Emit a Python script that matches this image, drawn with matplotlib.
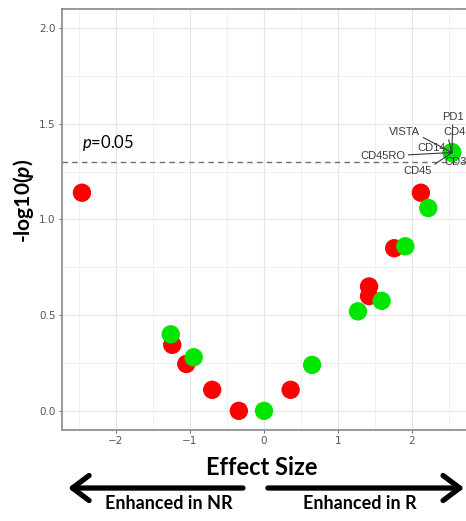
import numpy as np
import matplotlib
matplotlib.use("Agg")
import matplotlib.pyplot as plt
from matplotlib.patches import FancyArrowPatch

plt.rcParams["mathtext.fontset"] = "custom"
plt.rcParams["mathtext.it"] = "Lato:italic"
plt.rcParams["mathtext.bf"] = "Lato:italic:bold"
plt.rcParams["mathtext.rm"] = "Lato"

# ---------------- data ----------------
red_x = [-2.46, -1.24, -1.05, -0.70, -0.34, 0.36, 1.42, 1.42, 1.76, 2.12]
red_y = [1.14, 0.345, 0.245, 0.11, 0.0, 0.11, 0.65, 0.60, 0.85, 1.14]

green_x = [-1.26, -0.95, 0.0, 0.65, 1.27, 1.59, 1.91, 2.22]
green_y = [0.40, 0.28, 0.0, 0.24, 0.52, 0.575, 0.86, 1.06]

# markers that sit on top of each other at the far right, each labelled
lab_names = ["PD1", "CD4", "VISTA", "CD14", "CD45RO", "CD3", "CD45"]
lab_x = [2.54, 2.54, 2.54, 2.54, 2.54, 2.54, 2.54]
lab_y = [1.35, 1.35, 1.35, 1.35, 1.35, 1.35, 1.35]

p_cut = 0.05

xticks = [-2, -1, 0, 1, 2]
yticks = [0.0, 0.5, 1.0, 1.5, 2.0]

# ---------------- figure ----------------
fig = plt.figure(figsize=(4.66, 5.21), dpi=100)
ax = fig.add_axes([0.133, 0.1747, 0.867, 0.808])

RED = "#ff0000"
GREEN = "#00e600"
ax.scatter(red_x, red_y, s=175, color=RED, edgecolors="none", zorder=3)
ax.scatter(green_x, green_y, s=175, color=GREEN, edgecolors="none", zorder=4)
ax.scatter(lab_x, lab_y, s=175, color=GREEN, edgecolors="none", zorder=4)

# significance line
ax.axhline(-np.log10(p_cut), color="#707070", lw=1.0, ls=(0, (4, 3)), zorder=2)
ax.text(-2.46, 1.40, r"$\mathit{p}$=0.05", fontsize=12, family="Lato", color="black",
        va="center", ha="left")

# labels with leader segments (offsets in data units, relpos on the text box)
lab_pos = {
    "PD1":    ((2.55, 1.535), (0.5, 0.0)),
    "CD4":    ((2.575, 1.457), (0.2, 0.0)),
    "VISTA":  ((1.905, 1.457), (1.0, 0.1)),
    "CD14":   ((2.27, 1.373), (0.0, 0.2)),
    "CD45RO": ((1.61, 1.332), (1.0, 0.6)),
    "CD3":    ((2.595, 1.300), (0.0, 1.0)),
    "CD45":   ((2.08, 1.253), (1.0, 1.0)),
}
for name, px, py in zip(lab_names, lab_x, lab_y):
    (tx, ty), rp = lab_pos[name]
    ax.annotate(name, xy=(px, py), xytext=(tx, ty), fontsize=8,
                family="Liberation Sans", color="#3a3a48", ha="center", va="center",
                arrowprops=dict(arrowstyle="-", color="#3a3a48", lw=0.8,
                                shrinkA=0, shrinkB=0, relpos=rp),
                zorder=5)

ax.set_xlim(-2.73, 2.73)
ax.set_ylim(-0.1, 2.10)
ax.set_xticks(xticks)
ax.set_yticks(yticks)
ax.set_xticklabels(["\u22122", "\u22121", "0", "1", "2"])
ax.set_yticklabels([f"{v:.1f}" for v in yticks])
ax.set_xticks([-2.5, -1.5, -0.5, 0.5, 1.5, 2.5], minor=True)
ax.set_yticks([0.25, 0.75, 1.25, 1.75], minor=True)
ax.tick_params(which="major", length=2.5, width=0.6, color="#555555",
               labelsize=7.5, labelcolor="#555555", pad=2)
ax.tick_params(which="minor", length=0)
ax.grid(True, which="major", color="#e6e6e6", lw=0.8)
ax.grid(True, which="minor", color="#f0f0f0", lw=0.7)
ax.set_axisbelow(True)
for side in ["left", "bottom", "top"]:
    ax.spines[side].set_color("#888888")
    ax.spines[side].set_linewidth(1.2)
ax.spines["right"].set_visible(False)

# axis titles
fig.text(0.050, 0.615, r"-log10($\mathbf{p}$)", rotation=90, fontsize=15,
         fontweight="bold", family="Lato", ha="center", va="center")
fig.text(0.562, 0.1036, "Effect Size", fontsize=17, fontweight="bold",
         family="Lato", ha="center", va="center")

# direction arrows under the x axis
ay = 0.0633
for a, b in [((0.5215, ay), (0.146, ay)), ((0.575, ay), (0.996, ay))]:
    fig.add_artist(FancyArrowPatch(a, b, transform=fig.transFigure,
                                   arrowstyle="->,head_length=12,head_width=9",
                                   color="black", lw=3.8, mutation_scale=1,
                                   shrinkA=0, shrinkB=0))
fig.text(0.363, 0.033, "Enhanced in NR", fontsize=13, fontweight="bold",
         family="Lato", ha="center", va="center")
fig.text(0.773, 0.033, "Enhanced in R", fontsize=13, fontweight="bold",
         family="Lato", ha="center", va="center")

fig.savefig("out.png", dpi=100)
